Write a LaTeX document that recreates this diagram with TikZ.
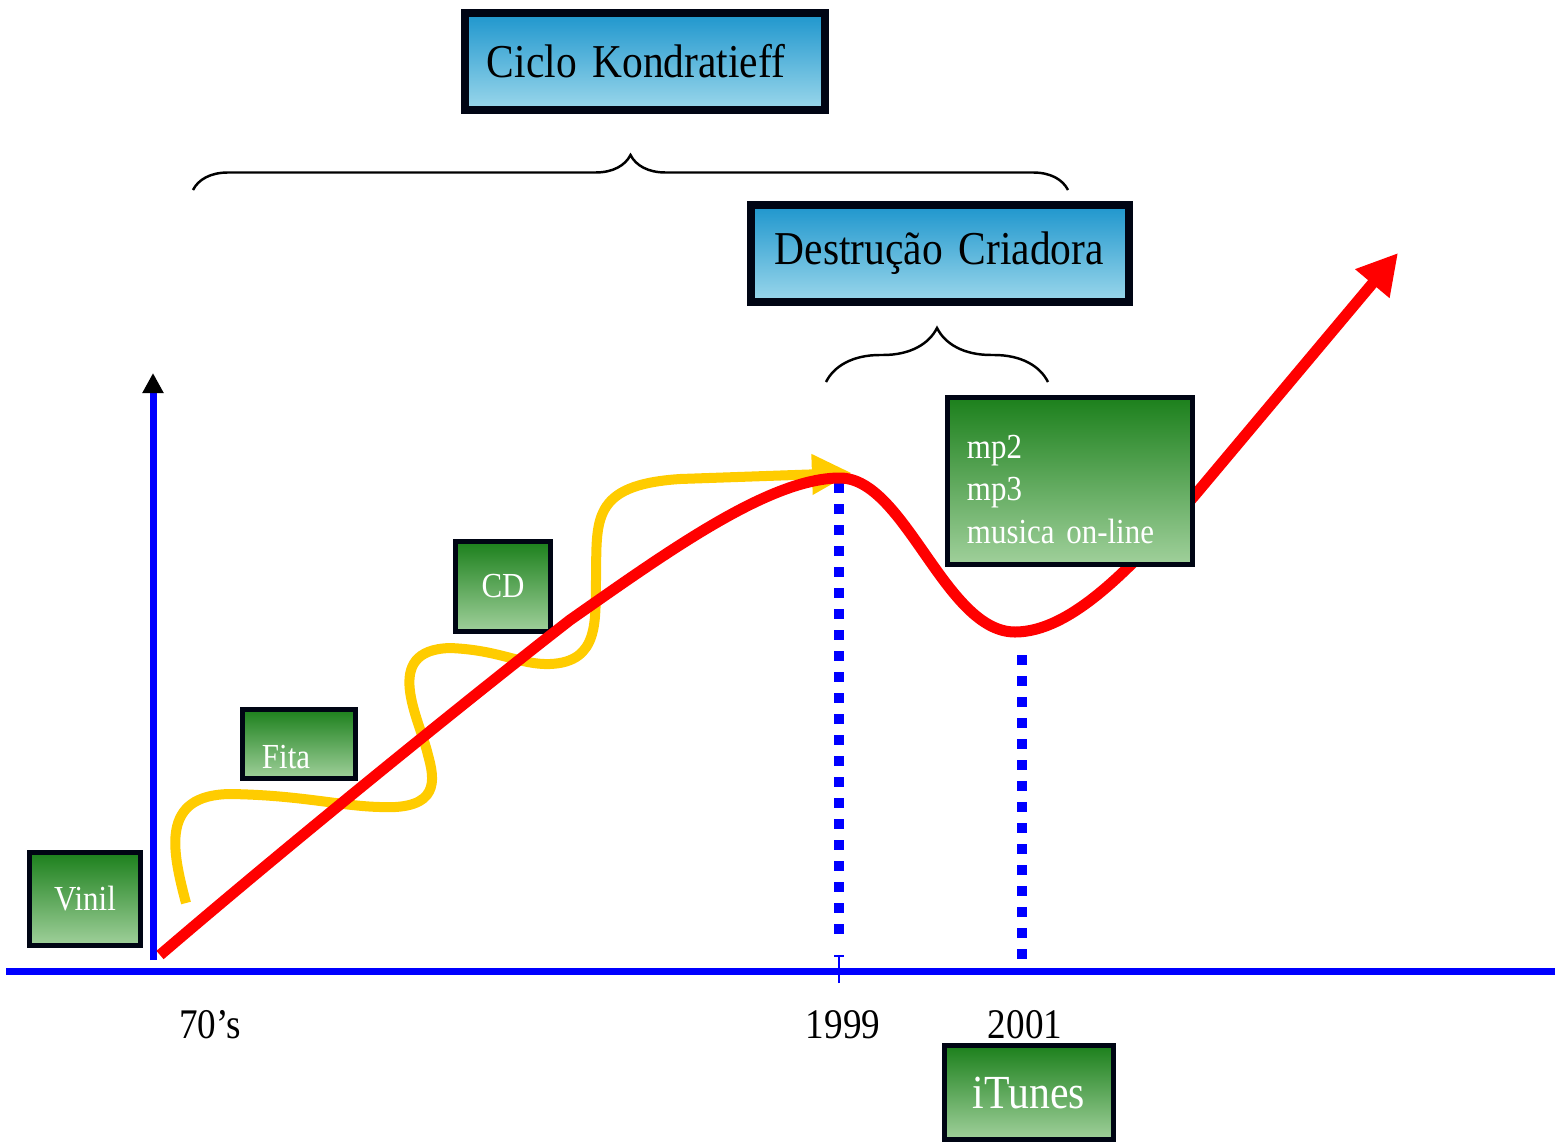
\documentclass[tikz,border=0pt]{standalone}
\usepackage{fontspec}
\setmainfont{Liberation Serif}[FakeStretch=0.88]
\usetikzlibrary{arrows.meta,decorations.pathreplacing}
\definecolor{kblue}{RGB}{0,0,255}
\definecolor{wave}{RGB}{255,204,0}
\definecolor{boxline}{RGB}{0,5,20}
\definecolor{skytop}{RGB}{30,150,205}
\definecolor{skybottom}{RGB}{155,215,235}
\definecolor{leaftop}{RGB}{28,128,28}
\definecolor{leafbottom}{RGB}{160,208,155}
\begin{document}
\begin{tikzpicture}
[x=0.01cm,y=-0.01cm,
  titledecorate/.style={draw=boxline,line width=0.08cm,top color=skytop,
    bottom color=skybottom,minimum height=0.97cm,inner sep=0pt,
    font=\fontsize{13.4}{15}\selectfont},
  mediadecorate/.style={draw=boxline,line width=0.05cm,top color=leaftop,
    bottom color=leafbottom,text=white,inner sep=0pt,
    font=\fontsize{10}{12}\selectfont},
  curvedecorate/.style={line width=0.11cm,red},
  wavedecorate/.style={line width=0.10cm,wave},
  axisdecorate/.style={line width=0.07cm,kblue},
  dotdecorate/.style={line width=0.10cm,kblue,dash pattern=on 0.10cm off 0.11cm},
  bracedecorate/.style={decorate,decoration={brace,amplitude=#1},line width=0.7pt},
  yeardecorate/.style={font=\fontsize{12}{14}\selectfont}]
\useasboundingbox (0,0) rectangle (1555,1142);
%% axes
\coordinate (origin) at (153,960);
\coordinate (ytop) at (153,373);
\coordinate (xleft) at (6,971);
\coordinate (xright) at (1555,971);
\draw[axisdecorate,-{Triangle[length=0.2cm,width=0.2cm,color=black]}] (origin) -- (ytop);
\draw[axisdecorate] (xleft) -- (xright);
\coordinate (tickbottom) at (839,983);
\coordinate (ticktop) at (839,955);
\draw[kblue,line width=0.02cm,-{Bar[width=0.1cm]}] (tickbottom) -- (ticktop);
%% dotted years
\foreach \linename/\x/\ytop/\ybottom in {peak/839/483/945, trough/1022/655/965} {
  \coordinate (\linename top) at (\x,\ytop);
  \coordinate (\linename bottom) at (\x,\ybottom);
  \draw[dotdecorate] (\linename top) -- (\linename bottom);
}
%% braces
\coordinate (kleft) at (193,190);
\coordinate (kright) at (1068,190);
\draw[bracedecorate=0.35cm] (kleft) -- (kright);
\coordinate (dleft) at (826,382);
\coordinate (dright) at (1048,382);
\draw[bracedecorate=0.54cm] (dleft) -- (dright);
%% titles
\node[titledecorate,minimum width=3.60cm,text width=3.16cm,align=left] (ciclo)
  at (645,61.5) {Ciclo Kondratieff};
\node[titledecorate,minimum width=3.78cm,text width=3.30cm,align=left] (destrucao)
  at (940,253.5) {Destrução Criadora};
%% media
\node[mediadecorate,minimum width=1.11cm,minimum height=0.93cm] (vinil) at (85,899) {Vinil};
\node[mediadecorate,minimum width=1.13cm,minimum height=0.69cm,text width=0.74cm,
  align=left,text height=0.48cm,text depth=0cm] (fita) at (299,744) {Fita};
\node[mediadecorate,minimum width=0.95cm,minimum height=0.90cm] (cd) at (503,586.5) {CD};
%% curves
\draw[wavedecorate,-{Triangle[length=0.40cm,width=0.38cm]}] (186,903)
  .. controls (172,850) and (160,795) .. (230,794)
  .. controls (300,795) and (340,806) .. (380,807)
  .. controls (440,810) and (435,780) .. (428,755)
  .. controls (420,720) and (380,650) .. (450,648)
  .. controls (500,650) and (520,665) .. (550,664)
  .. controls (600,662) and (595,620) .. (596,580)
  .. controls (597,520) and (590,485) .. (680,479)
  -- (852,473);
\draw[curvedecorate,-{Triangle[length=0.40cm,width=0.42cm]}] (160,955)
  .. controls (300,835) and (480,690) .. (570,620)
  .. controls (670,550) and (770,478) .. (840,478)
  .. controls (905,478) and (945,632) .. (1015,632)
  .. controls (1070,632) and (1130,570) .. (1195,495)
  -- (1398,253);
\node[mediadecorate,minimum width=2.45cm,minimum height=1.67cm,text width=2.06cm,
  align=left] (mp) at (1070,481) {\rule{0pt}{0.40cm}mp2\\mp3\\musica on-line};
\node[mediadecorate,minimum width=1.69cm,minimum height=0.94cm,
  font=\fontsize{13.5}{15}\selectfont] (itunes) at (1029,1092.5) {iTunes};
%% years
\foreach \nodename/\x/\txt in {seventies/210/70’s, nineteen/843/1999, twothousand/1025/2001}
  \node[yeardecorate] (\nodename) at (\x,1025) {\txt};
\end{tikzpicture}
\end{document}
